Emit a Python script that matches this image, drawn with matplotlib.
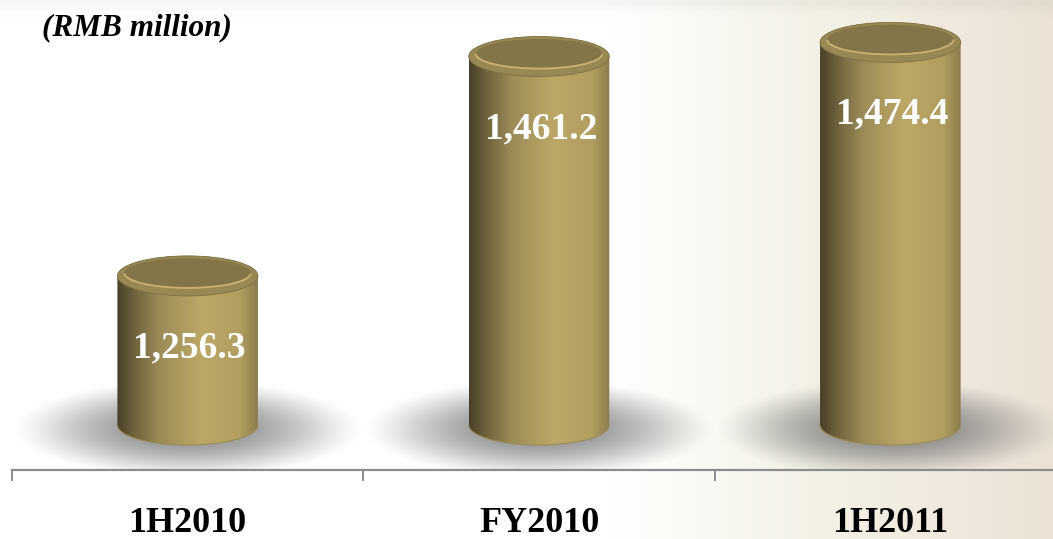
import numpy as np
import matplotlib
matplotlib.use("Agg")
import matplotlib.pyplot as plt
from matplotlib.path import Path
from matplotlib.patches import PathPatch, Ellipse, Arc

# ---- data ----
categories = ["1H2010", "FY2010", "1H2011"]
values = [1256.3, 1461.2, 1474.4]
value_labels = ["1,256.3", "1,461.2", "1,474.4"]
unit_label = "(RMB million)"

# ---- layout ----
W, H = 1053, 539
DPI = 100
fig = plt.figure(figsize=(W / DPI, H / DPI), dpi=DPI)

# background gradient
bg = fig.add_axes([0, 0, 1, 1], zorder=-10)
bg.axis("off")
nx, ny = 400, 100
xs = np.linspace(0, 1, nx)
stops = [(0.0, (255, 255, 255)), (0.58, (255, 255, 255)), (0.78, (243, 241, 229)),
         (0.92, (240, 231, 221)), (1.0, (235, 226, 213))]
sx = [s[0] for s in stops]
row = np.stack([np.interp(xs, sx, [s[1][c] for s in stops]) for c in range(3)], axis=-1) / 255.0
img = np.repeat(row[None, :, :], ny, axis=0)
ys = np.linspace(0, 1, ny)[:, None]
topfade = np.clip(ys / 0.025, 0, 1)
img = img * (0.965 + 0.035 * topfade[..., None])
bg.imshow(img, extent=(0, 1, 0, 1), aspect="auto", origin="upper")
bg.set_xlim(0, 1); bg.set_ylim(0, 1)

ax = fig.add_axes([12 / W, 69 / H, 1054 / W, 470 / H])
ax.set_facecolor("none")
ax.set_xlim(-0.5, 2.5)
base = 1117.0
ylo, yhi = 1075.0, 1514.0
ax.set_ylim(ylo, yhi)
px_per_unit = 470 / (yhi - ylo)

w = 0.2
b = 20 / px_per_unit

body_stops = [(0.0, (72, 64, 40)), (0.12, (110, 98, 60)), (0.3, (155, 139, 88)),
              (0.6, (188, 168, 102)), (0.88, (176, 158, 96)), (1.0, (138, 124, 76))]
gx = np.linspace(0, 1, 200)
grad = np.stack([np.interp(gx, [s[0] for s in body_stops], [s[1][c] for s in body_stops]) for c in range(3)],
                axis=-1) / 255.0
grad = grad[None, :, :]

for i, v in enumerate(values):
    x = i
    # shadow
    sw, sh = 0.5, 50 / px_per_unit
    gxs = np.linspace(-1, 1, 200)
    gys = np.linspace(-1, 1, 100)
    XX, YY = np.meshgrid(gxs, gys)
    r2 = XX ** 2 + YY ** 2
    alpha = 0.78 * np.clip(1 - r2, 0, 1) ** 1.4
    sh_img = np.zeros((100, 200, 4))
    sh_img[..., :3] = 0.42
    sh_img[..., 3] = alpha
    cy = base - 4 / px_per_unit
    ax.imshow(sh_img, extent=(x - sw, x + sw, cy - sh, cy + sh), aspect="auto", zorder=1, interpolation="bilinear")

    # body
    t_bot = np.linspace(np.pi, 2 * np.pi, 60)
    t_top = np.linspace(0, np.pi, 60)
    verts = [(x - w, v)] + [(x + w * np.cos(t), base + b * np.sin(t)) for t in t_bot] + \
            [(x + w, v)] + [(x + w * np.cos(t), v + b * np.sin(t)) for t in t_top]
    path = Path(verts + [verts[0]], [Path.MOVETO] + [Path.LINETO] * (len(verts) - 1) + [Path.CLOSEPOLY])
    clip = PathPatch(path, transform=ax.transData, facecolor="none", edgecolor="none")
    ax.add_patch(clip)
    im = ax.imshow(grad, extent=(x - w, x + w, base - b, v + b), aspect="auto", zorder=2, interpolation="bilinear")
    im.set_clip_path(clip)
    ax.add_patch(Arc((x, base), 2 * w, 2 * b, theta1=180, theta2=360, color="#9a8a55", lw=0.8, zorder=3))

    # top
    ax.add_patch(Ellipse((x, v), 2 * w, 2 * b, facecolor="#988854", edgecolor="#7f7044", lw=0.6, zorder=3))
    ax.add_patch(Ellipse((x, v + 0.14 * b), 2 * w * 0.9, 2 * b * 0.74, facecolor="#847548",
                         edgecolor="none", zorder=4))
    ax.add_patch(Arc((x, v + 0.14 * b), 2 * w * 0.9, 2 * b * 0.74, theta1=215, theta2=325,
                     color="#dcc482", lw=1.3, alpha=0.75, zorder=5))

    ax.annotate(value_labels[i], xy=(x, v), xytext=(2, -72), textcoords="offset pixels",
                ha="center", va="center", color="white", fontsize=27, fontweight="bold",
                family="Liberation Serif", zorder=6)

# axis
for s in ["left", "right", "top"]:
    ax.spines[s].set_visible(False)
ax.spines["bottom"].set_color("#8c8c8c")
ax.spines["bottom"].set_linewidth(1.6)
ax.set_yticks([])
ax.set_xticks([-0.5, 0.5, 1.5, 2.5])
ax.set_xticklabels([])
ax.tick_params(axis="x", length=8, width=1.4, color="#8c8c8c", direction="out")
ax.set_xticks(range(len(categories)), minor=True)
ax.tick_params(axis="x", which="minor", length=0)
trans = ax.get_xaxis_transform()
for i, c in enumerate(categories):
    ax.text(i, -(532 - 470) / 470, c, transform=trans, ha="center", va="baseline",
            fontsize=26, fontweight="bold", family="Liberation Serif", color="black")

fig.text(42 / W, 1 - 35 / H, unit_label, ha="left", va="baseline", fontsize=22.5,
         fontweight="bold", fontstyle="italic", family="Liberation Serif", color="black")

fig.savefig("out.png", dpi=DPI)
